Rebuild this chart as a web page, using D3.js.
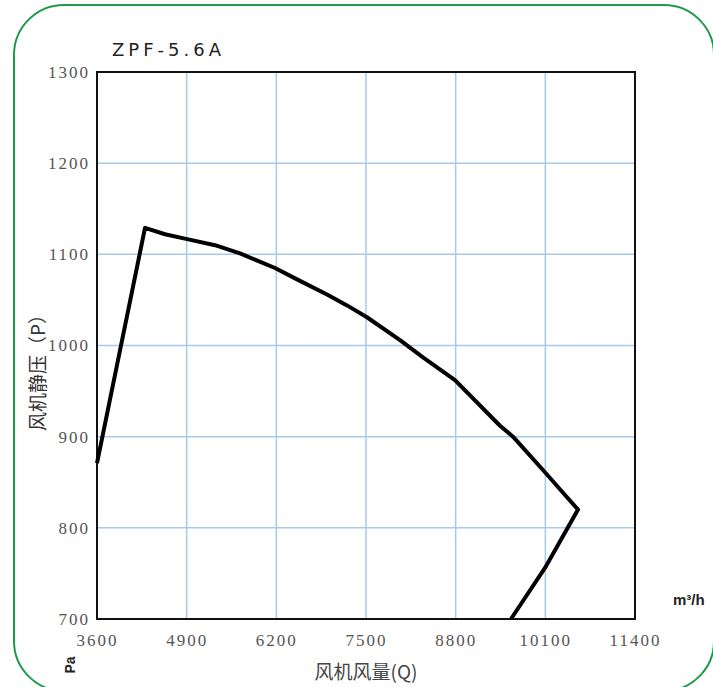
<!DOCTYPE html>
<html><head><meta charset="utf-8">
<script src="https://cdn.jsdelivr.net/npm/d3@7"></script>
<style>body{margin:0;background:#fff}</style>
</head><body><svg id="c" width="713" height="687"></svg>
<script>
const title = "ZPF-5.6A";
const xTicks = [3600, 4900, 6200, 7500, 8800, 10100, 11400];
const yTicks = [700, 800, 900, 1000, 1100, 1200, 1300];
const flow = [3600, 4296, 4586, 4890, 5311, 5673, 6181, 6514, 6935, 7225, 7514, 7993, 8326, 8790, 9443, 9631, 10095, 10385, 10574, 10095, 9602];
const pressure = [871, 1129, 1122, 1117, 1110, 1101, 1085, 1072, 1056, 1044, 1031, 1006, 987, 962, 912, 900, 861, 836, 820, 756, 700];

const svg = d3.select("#c");
const L = 97, R = 635, T = 72, B = 619;
const x = d3.scaleLinear().domain([3600, 11400]).range([L, R]);
const y = d3.scaleLinear().domain([700, 1300]).range([B, T]);

// rounded green border
svg.append("rect").attr("x", 14).attr("y", 5).attr("width", 700).attr("height", 686)
  .attr("rx", 50).attr("ry", 50).attr("fill", "none").attr("stroke", "#1e9a4a").attr("stroke-width", 2);

// grid
svg.append("g").selectAll("line").data(xTicks.slice(1, -1)).join("line")
  .attr("x1", d => x(d)).attr("x2", d => x(d)).attr("y1", T).attr("y2", B)
  .attr("stroke", "#a9c9ea").attr("stroke-width", 1.5);
svg.append("g").selectAll("line").data(yTicks.slice(1, -1)).join("line")
  .attr("y1", d => y(d)).attr("y2", d => y(d)).attr("x1", L).attr("x2", R)
  .attr("stroke", "#a9c9ea").attr("stroke-width", 1.5);

// axes (labels only)
const xa = svg.append("g").attr("transform", `translate(0,${B})`)
  .call(d3.axisBottom(x).tickValues(xTicks).tickFormat(d3.format("d")).tickSize(0).tickPadding(15));
const ya = svg.append("g").attr("transform", `translate(${L},0)`)
  .call(d3.axisLeft(y).tickValues(yTicks).tickFormat(d3.format("d")).tickSize(0).tickPadding(7));
[xa, ya].forEach(a => {
  a.select(".domain").remove();
  a.selectAll("text").attr("font-family", "'Liberation Serif','DejaVu Serif',serif")
    .attr("font-size", 17).attr("letter-spacing", 2).attr("fill", "#555");
});

// frame
svg.append("rect").attr("x", L).attr("y", T).attr("width", R - L).attr("height", B - T)
  .attr("fill", "none").attr("stroke", "#111").attr("stroke-width", 2);

// curve
const pts = flow.map((f, i) => [f, pressure[i]]);
svg.append("path").datum(pts)
  .attr("d", d3.line().x(d => x(d[0])).y(d => y(d[1])))
  .attr("fill", "none").attr("stroke", "#000").attr("stroke-width", 4).attr("stroke-linejoin", "round");

// texts
svg.append("text").attr("x", 112).attr("y", 56).text(title)
  .attr("font-family", "'DejaVu Sans',sans-serif").attr("font-size", 18).attr("letter-spacing", 4).attr("fill", "#222");
svg.append("text").attr("transform", "translate(36,368) rotate(-90)").attr("text-anchor", "middle").attr("dominant-baseline", "central")
  .text("风机静压（P）").attr("font-family", "'Noto Sans CJK SC',sans-serif").attr("font-size", 19).attr("fill", "#333");
svg.append("text").attr("transform", "translate(75,665) rotate(-90)").attr("text-anchor", "middle")
  .text("Pa").attr("font-family", "'Liberation Sans',sans-serif").attr("font-size", 14).attr("font-weight", "bold").attr("fill", "#222");
svg.append("text").attr("x", 366).attr("y", 679).attr("text-anchor", "middle")
  .text("风机风量(Q)").attr("font-family", "'Noto Sans CJK SC',sans-serif").attr("font-size", 19).attr("fill", "#444");
svg.append("text").attr("x", 673).attr("y", 605)
  .text("m³/h").attr("font-family", "'Liberation Sans',sans-serif").attr("font-size", 15).attr("font-weight", "bold").attr("fill", "#222");
</script></body></html>
